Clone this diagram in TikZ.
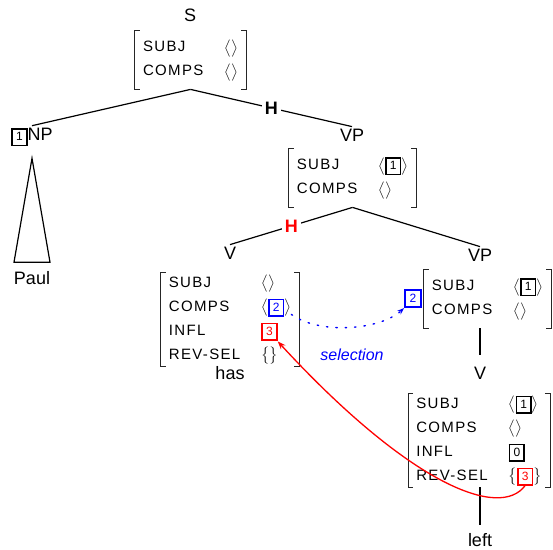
\documentclass[tikz,border=0pt]{standalone}
\usepackage{exscale}
\usepackage{fontspec}
\setmainfont{Liberation Sans}
\newfontfamily\avmfont[LetterSpace=9]{Liberation Sans}
\usepackage{tikz}
\usetikzlibrary{arrows.meta,positioning,matrix}

% boxed tag inside a feature value
\newcommand{\numbox}[2][black]{{\color{#1}\setlength{\fboxsep}{1.5pt}\setlength{\fboxrule}{1.6pt}%
  \fbox{\makebox[10pt]{\rule[-2.5pt]{0pt}{12pt}\fontsize{12}{12}\selectfont #2}}}}
% list and set values
\newcommand{\lst}[1]{$\left\langle\rule[-5pt]{0pt}{16pt}\mbox{#1}\right\rangle$}
\newcommand{\set}[1]{$\left\{\rule[-5pt]{0pt}{16pt}\mbox{#1}\right\}$}
% square brackets round a feature structure
\newcommand{\avmbrackets}[1]{%
  \draw[bracket] ([xshift=5pt]#1.north west) -- (#1.north west) -- (#1.south west) -- ([xshift=5pt]#1.south west);
  \draw[bracket] ([xshift=-5pt]#1.north east) -- (#1.north east) -- (#1.south east) -- ([xshift=-5pt]#1.south east);}

\tikzset{
  cat/.style={font=\fontsize{18}{20}\selectfont, inner sep=2pt},
  head/.style={font=\fontsize{18}{20}\selectfont\bfseries, fill=white, inner sep=3pt},
  avm/.style={matrix of nodes, inner xsep=8pt, row sep={24pt,between origins}, column sep=21pt,
    nodes={anchor=base west, inner sep=0pt, text height=11pt, text depth=3pt,
      font=\avmfont\fontsize{15}{18}\selectfont}},
  bracket/.style={line width=0.8pt, black!85},
  tagbox/.style={draw, line width=1.6pt, inner sep=1.5pt, minimum width=16pt, minimum height=17pt,
    font=\fontsize{12}{12}\selectfont},
  tree/.style={line width=1.2pt},
  sel/.style={blue, line width=1.4pt, dash pattern=on 1.4pt off 8pt, line cap=round,
    -{Stealth[length=7pt,width=5pt]}},
  revsel/.style={red, line width=1.3pt, -{Stealth[length=8pt,width=6pt]}},
}

\begin{document}
\begin{tikzpicture}[x=1pt,y=-1pt]
\useasboundingbox (0,0) rectangle (553,549);

% Categories
\node[cat] (s) at (190,15) {S};
\node[cat] (np) at (32,137) {\numbox{1}NP};
\node[cat] (paul) at (32,278) {Paul};
\node[cat] (vp) at (352,135) {VP};
\node[cat] (v) at (230,253) {V};
\node[cat] (vp2) at (480,255) {VP};
\node[cat] (has) at (230,373) {has};
\node[cat] (v2) at (480,373) {V};
\node[cat] (left) at (480,540) {left};

% Feature structures
\matrix (sAVM) [avm, inner ysep=10.5pt, anchor=north] at (190.5,30) {
  SUBJ & \lst{} \\
  COMPS & \lst{} \\
};
\matrix (vpAVM) [avm, inner ysep=10.5pt, anchor=north] at (352.5,148) {
  SUBJ & \lst{\numbox{1}} \\
  COMPS & \lst{} \\
};
\matrix (vL) [avm, inner ysep=4pt, anchor=north] at (230,272) {
  SUBJ & \lst{} \\
  COMPS & \lst{\numbox[blue]{2}} \\
  INFL & \numbox[red]{3} \\
  REV-SEL & \set{} \\
};
\matrix (vp2AVM) [avm, inner ysep=10.5pt, anchor=north] at (487.5,269) {
  SUBJ & \lst{\numbox{1}} \\
  COMPS & \lst{} \\
};
\matrix (vB) [avm, inner ysep=4pt, anchor=north] at (479,393) {
  SUBJ & \lst{\numbox{1}} \\
  COMPS & \lst{} \\
  INFL & \numbox{0} \\
  REV-SEL & \set{\numbox[red]{3}} \\
};
\avmbrackets{sAVM}
\avmbrackets{vpAVM}
\avmbrackets{vL}
\avmbrackets{vp2AVM}
\avmbrackets{vB}
\node[tagbox, blue, anchor=east] (tag2) at ([xshift=-2pt]vp2AVM.west) {2};

% Tree edges
\draw[tree] (sAVM.south) -- (np.north);
\draw[tree] (sAVM.south) -- node[head] {H} (vp.north);
\draw[tree] ([yshift=-10pt]np.south) -- ([xshift=-18pt,yshift=7pt]paul.north)
  -- ([xshift=18pt,yshift=7pt]paul.north) -- cycle;
\draw[tree] (vpAVM.south) -- node[head, text=red] {H} (v.north);
\draw[tree] (vpAVM.south) -- (vp2.north);
\draw[tree] (vp2AVM.south -| v2.north) -- ([yshift=10pt]v2.north);
\draw[tree] (vB.south -| left.north) -- ([yshift=6pt]left.north);

% Selection links
\draw[sel] (vL-2-2.south east) .. controls (320,335) and (380,330) .. (tag2.south west);
\node[font=\fontsize{16}{18}\selectfont\itshape, text=blue] (selection) at (352,355) {selection};
\draw[revsel] ([yshift=-2pt]vB-4-2.south) .. controls (500,520) and (410,485) .. ([yshift=-3pt]vL-3-2.south east);
\end{tikzpicture}
\end{document}
